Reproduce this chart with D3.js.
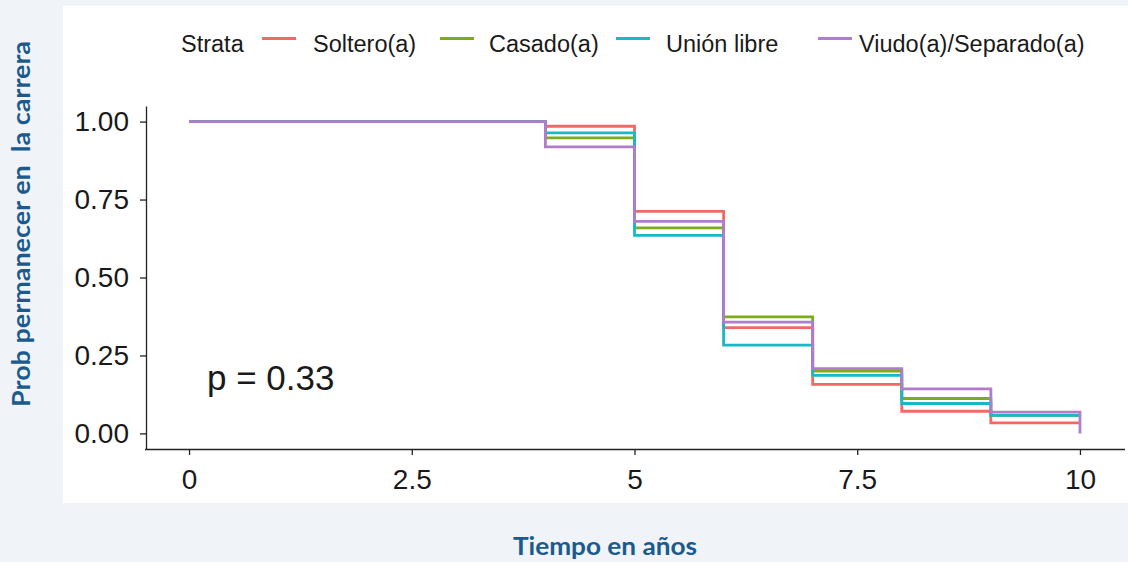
<!DOCTYPE html>
<html>
<head>
<meta charset="utf-8">
<script src="https://cdn.jsdelivr.net/npm/d3@7"></script>
<style>
    body { margin: 0; background: #f0f3f8; }
    svg text { white-space: pre; }
</style>
</head>
<body>
<svg id="chart" width="1128" height="562"></svg>
<script>
// Kaplan-Meier estimates (value after each jump)
const times = [0, 4, 5, 6, 7, 8, 9, 10];
const strataNames = ["Soltero(a)", "Casado(a)", "Unión libre", "Viudo(a)/Separado(a)"];
const soltero = [1, 0.985, 0.712, 0.339, 0.157, 0.071, 0.034, 0.034];
const casado = [1, 0.948, 0.659, 0.374, 0.200, 0.112, 0.058, 0.058];
const unionLibre = [1, 0.964, 0.635, 0.283, 0.186, 0.096, 0.058, 0.058];
const viudo = [1, 0.919, 0.680, 0.357, 0.208, 0.143, 0.068, 0];
const xTicks = [0, 2.5, 5, 7.5, 10];
const yTicks = [0, 0.25, 0.5, 0.75, 1];
const pValue = "p = 0.33";

const colors = ["#f06a63", "#7cab1c", "#19b9c3", "#b07ccb"];

/** Class for the survival plot. */
class SurvivalChart {
    constructor() {
        this.svg = d3.select('#chart');
        this.x = d3.scaleLinear().domain([-0.5, 10.5]).range([144.5, 1124.5]);
        this.y = d3.scaleLinear().domain([-0.05, 1.05]).range([449, 106]);
    }

    drawBackground() {
        this.svg.append('rect')
            .attr('width', 1128).attr('height', 562)
            .attr('fill', '#f0f3f8');
        // white panel holding the plot
        this.svg.append('rect')
            .attr('x', 63).attr('y', 6)
            .attr('width', 1065).attr('height', 497)
            .attr('fill', '#ffffff');
    }

    drawAxes() {
        var xAxis = d3.axisBottom(this.x)
            .tickValues(xTicks)
            .tickFormat(d3.format('~g'))
            .tickSize(6).tickSizeOuter(0);
        var gx = this.svg.append('g')
            .attr('transform', 'translate(0,449)')
            .call(xAxis);
        gx.selectAll('text').attr('y', 40).attr('dy', 0);

        var yAxis = d3.axisLeft(this.y)
            .tickValues(yTicks)
            .tickFormat(d3.format('.2f'))
            .tickSize(6).tickPadding(11).tickSizeOuter(0);
        var gy = this.svg.append('g')
            .attr('transform', 'translate(146,0)')
            .call(yAxis);

        [gx, gy].forEach(function (g) {
            g.select('.domain').attr('stroke', '#222').attr('stroke-width', 1.3);
            g.selectAll('.tick line').attr('stroke', '#222').attr('stroke-width', 1.3);
            g.selectAll('text')
                .attr('font-family', 'Liberation Sans, Arial, sans-serif')
                .attr('font-size', 28)
                .attr('fill', '#1a1a1a');
        });
    }

    drawCurves() {
        var series = [soltero, casado, unionLibre, viudo];
        var line = d3.line()
            .x(d => this.x(d[0]))
            .y(d => this.y(d[1]))
            .curve(d3.curveStepAfter);

        this.svg.append('g').selectAll('path')
            .data(series)
            .enter()
            .append('path')
            .attr('d', s => line(times.map((t, i) => [t, s[i]])))
            .attr('fill', 'none')
            .attr('stroke', (s, i) => colors[i])
            .attr('stroke-width', 2.8);
    }

    drawLegend() {
        var leg = this.svg.append('g')
            .attr('font-family', 'Liberation Sans, Arial, sans-serif')
            .attr('font-size', 23.5)
            .attr('fill', '#1a1a1a');
        leg.append('text').attr('x', 181).attr('y', 52).text('Strata');

        // left edge of each key and of its label
        var keyX = [262, 440, 616, 818];
        var labelX = [313, 489, 666, 859];
        strataNames.forEach(function (name, i) {
            leg.append('line')
                .attr('x1', keyX[i]).attr('x2', keyX[i] + 34)
                .attr('y1', 38.5).attr('y2', 38.5)
                .attr('stroke', colors[i])
                .attr('stroke-width', 2.8);
            leg.append('text')
                .attr('x', labelX[i])
                .attr('y', 52)
                .text(name);
        });
    }

    drawLabels() {
        this.svg.append('text')
            .attr('x', 207).attr('y', 390)
            .attr('font-family', 'Liberation Sans, Arial, sans-serif')
            .attr('font-size', 35)
            .attr('fill', '#1a1a1a')
            .text(pValue);

        this.svg.append('text')
            .attr('x', 605).attr('y', 555)
            .attr('text-anchor', 'middle')
            .attr('font-family', 'Lato, sans-serif')
            .attr('font-weight', 'bold')
            .attr('font-size', 25)
            .attr('textLength', 184)
            .attr('lengthAdjust', 'spacingAndGlyphs')
            .attr('fill', '#1b5a8c')
            .text('Tiempo en años');

        this.svg.append('text')
            .attr('transform', 'translate(30,224) rotate(-90)')
            .attr('text-anchor', 'middle')
            .attr('font-family', 'Lato, sans-serif')
            .attr('font-weight', 'bold')
            .attr('font-size', 24)
            .attr('textLength', 366)
            .attr('lengthAdjust', 'spacingAndGlyphs')
            .attr('fill', '#1b5a8c')
            .text('Prob permanecer en  la carrera');
    }
}

var chart = new SurvivalChart();
chart.drawBackground();
chart.drawAxes();
chart.drawCurves();
chart.drawLegend();
chart.drawLabels();
</script>
</body>
</html>
